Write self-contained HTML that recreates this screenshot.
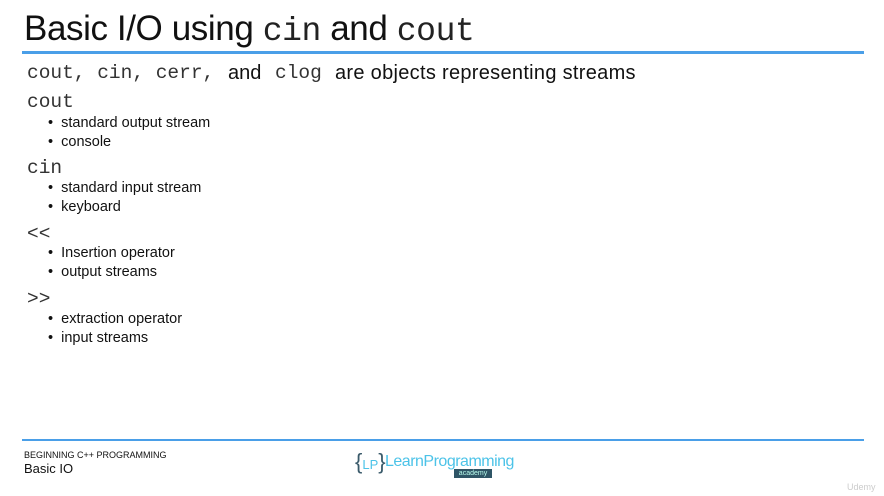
<!DOCTYPE html>
<html><head><style>
body{margin:0;width:884px;height:496px;background:#fff;position:relative;overflow:hidden;font-family:"Liberation Sans",sans-serif;color:#111}
.a{position:absolute;white-space:nowrap}
.m{font-family:"Liberation Mono",monospace;color:#333}
.b{font-size:14.5px;left:48px}
.h{font-size:19.5px;left:27px}
</style></head><body>
<div class="a" style="left:24px;top:9px;font-size:35px;letter-spacing:-0.4px">Basic I/O using <span class="m" style="font-size:33px;color:#222">cin</span> and <span class="m" style="font-size:33px;color:#222">cout</span></div>
<div class="a" style="left:22px;top:51px;width:842px;height:3px;background:#4a9fe8"></div>
<div class="a m" style="left:27px;top:62px;font-size:19.5px">cout, cin, cerr,</div>
<div class="a" style="left:228px;top:62px;font-size:20px">and</div>
<div class="a m" style="left:275px;top:62px;font-size:19.5px">clog</div>
<div class="a" style="left:335px;top:62px;font-size:20px;letter-spacing:0.3px">are objects representing streams</div>
<div class="a h m" style="top:91px">cout</div>
<div class="a b" style="top:115px">•&nbsp; standard output stream</div>
<div class="a b" style="top:134px">•&nbsp; console</div>
<div class="a h m" style="top:157px">cin</div>
<div class="a b" style="top:180px">•&nbsp; standard input stream</div>
<div class="a b" style="top:199px">•&nbsp; keyboard</div>
<div class="a h m" style="top:223px">&lt;&lt;</div>
<div class="a b" style="top:245px">•&nbsp; Insertion operator</div>
<div class="a b" style="top:264px">•&nbsp; output streams</div>
<div class="a h m" style="top:288px">&gt;&gt;</div>
<div class="a b" style="top:311px">•&nbsp; extraction operator</div>
<div class="a b" style="top:330px">•&nbsp; input streams</div>
<div class="a" style="left:22px;top:439px;width:842px;height:2px;background:#4a9fe8"></div>
<div class="a" style="left:24px;top:450px;font-size:9px">BEGINNING C++ PROGRAMMING</div>
<div class="a" style="left:24px;top:461px;font-size:13px">Basic IO</div>
<div class="a" style="left:355px;top:449px;font-size:22px;color:#3a5a6a">{<span style="font-size:13px;color:#4cc3e8">LP</span>}</div>
<div class="a" style="left:385px;top:453px;font-size:16px;color:#4cc3e8;letter-spacing:-0.5px">LearnProgramming</div>
<div class="a" style="left:454px;top:469px;width:38px;height:9px;background:#2f5566;color:#bfe;font-size:7px;text-align:center;line-height:9px">academy</div>
<div class="a" style="left:847px;top:482px;font-size:9px;color:#ccc">Udemy</div>
</body></html>
